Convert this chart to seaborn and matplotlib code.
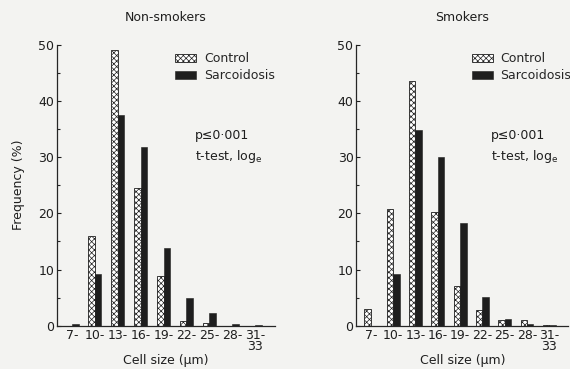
import matplotlib
matplotlib.use("Agg")
import matplotlib.pyplot as plt
import pandas as pd
import seaborn as sns
from matplotlib.ticker import MultipleLocator

sizes = ["7-", "10-", "13-", "16-", "19-", "22-", "25-", "28-", "31-\n33"]
groups = ["Control", "Sarcoidosis"]

nonsmoker_control = [0.0, 16.0, 49.0, 24.5, 8.8, 0.8, 0.5, 0.0, 0.0]
nonsmoker_sarc = [0.3, 9.3, 37.5, 31.8, 13.9, 5.0, 2.2, 0.3, 0.2]
smoker_control = [3.0, 20.7, 43.6, 20.2, 7.0, 2.8, 1.0, 1.0, 0.2]
smoker_sarc = [0.0, 9.3, 34.8, 30.0, 18.3, 5.2, 1.2, 0.4, 0.2]

titles = ["Non-smokers", "Smokers"]
stat_text = "p\u22640\u00b7001\nt-test, log$\\mathregular{_e}$"

BG = "#f3f3f1"
INK = "#1e1e1e"


def to_frame(control, sarc):
    return pd.DataFrame({
        "size": sizes * 2,
        "group": ["Control"] * len(sizes) + ["Sarcoidosis"] * len(sizes),
        "freq": control + sarc,
    })


def draw_panel(ax, df, title):
    sns.barplot(data=df, x="size", y="freq", hue="group", hue_order=groups,
                order=sizes, palette=["white", INK], width=0.58, gap=0,
                saturation=1, ax=ax, legend=False)
    ctrl, sarc = ax.containers[0], ax.containers[1]
    for p in ctrl:
        p.set_hatch("xxxxxx")
        p.set_edgecolor(INK)
        p.set_linewidth(0.6)
        p.set_facecolor("white")
    for p in sarc:
        p.set_edgecolor(INK)
        p.set_linewidth(0.4)

    ax.set_facecolor(BG)
    ax.set_xlim(-0.65, 8.85)
    ax.set_ylim(0, 50)
    ax.yaxis.set_major_locator(MultipleLocator(10))
    ax.yaxis.set_minor_locator(MultipleLocator(5))
    ax.tick_params(axis="y", which="major", direction="in", length=3,
                   width=0.8, labelsize=9, pad=2, colors=INK)
    ax.tick_params(axis="y", which="minor", direction="in", length=2, width=0.8)
    ax.tick_params(axis="x", length=0, labelsize=9, pad=2, colors=INK)
    for lab in ax.get_xticklabels():
        lab.set_linespacing(0.85)
        lab.set_verticalalignment("top")
    sns.despine(ax=ax)
    ax.spines["left"].set_linewidth(0.9)
    ax.spines["bottom"].set_linewidth(0.9)
    ax.set_xlabel("Cell size (\u00b5m)", fontsize=9, labelpad=1, color=INK)
    ax.set_ylabel("")
    ax.set_title(title, fontsize=9, pad=17, color=INK)

    ax.legend(handles=[ctrl, sarc], labels=groups, frameon=False, fontsize=9,
              loc="upper left", bbox_to_anchor=(0.52, 0.99),
              handlelength=1.7, handleheight=0.55, handletextpad=0.6,
              labelspacing=0.3, borderaxespad=0)
    ax.text(0.635, 0.70, stat_text, transform=ax.transAxes, fontsize=9,
            va="top", ha="left", linespacing=1.5, color=INK)


def _main():
    sns.set_style("ticks")
    plt.rcParams["font.family"] = ["DejaVu Sans"]
    plt.rcParams["hatch.linewidth"] = 0.5

    fig = plt.figure(figsize=(5.70, 3.69), dpi=100, facecolor=BG)
    ax1 = fig.add_axes([0.100, 0.117, 0.382, 0.762])
    ax2 = fig.add_axes([0.625, 0.117, 0.372, 0.762])

    draw_panel(ax1, to_frame(nonsmoker_control, nonsmoker_sarc), titles[0])
    draw_panel(ax2, to_frame(smoker_control, smoker_sarc), titles[1])

    fig.text(0.032, 0.50, "Frequency (%)", rotation=90, fontsize=9,
             ha="center", va="center", color=INK)

    fig.savefig("out.png", dpi=100, facecolor=BG)
    plt.close(fig)


if __name__ == "__main__":
    _main()
